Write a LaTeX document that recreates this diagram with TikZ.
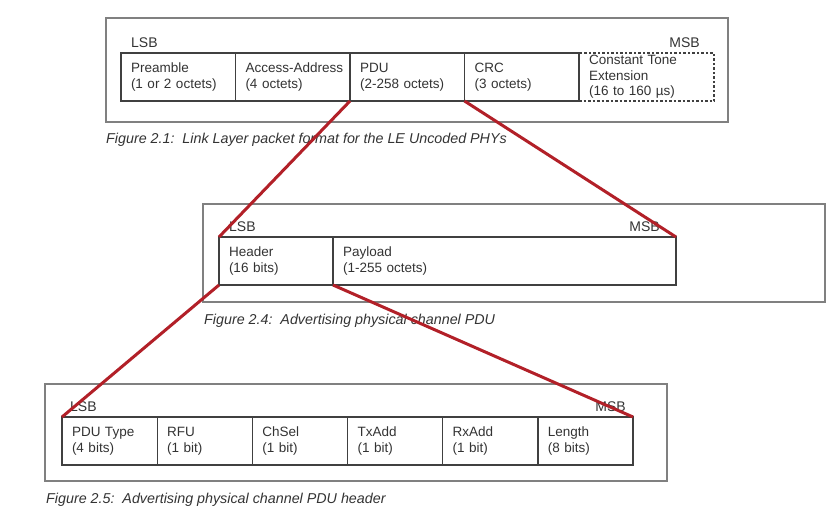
\documentclass[tikz,border=0pt]{standalone}
\usepackage{fontspec}
\setmainfont{Liberation Sans}
\usetikzlibrary{positioning}
\definecolor{linkred}{RGB}{178,32,40}
\definecolor{inkgray}{RGB}{51,51,51}
\tikzset{
  field/.style={draw=black!75,line width=1.3pt,outer sep=0pt,anchor=north west,
    minimum height=48pt,inner xsep=10pt,inner ysep=0pt,text width=#1,align=left,
    font=\fontsize{13.5}{16.5}\selectfont,text=inkgray},
  bitlbl/.style={font=\fontsize{14}{16}\selectfont,text=inkgray,inner sep=0pt},
  figcap/.style={font=\fontsize{14.3}{17}\selectfont\itshape,text=inkgray,inner sep=0pt,anchor=base west},
  frame/.style={draw=black!50,line width=1.1pt},
  zoomline/.style={draw=linkred,line width=3pt}
}
\begin{document}
\begin{tikzpicture}[x=1pt,y=-1pt]
\useasboundingbox (0,0) rectangle (840,507);
% Figure 2.1
\draw[frame](106,18) rectangle (728,122);
\node[bitlbl,anchor=base west] (lsbA) at (131,47) {LSB};
\node[bitlbl,anchor=base east] (msbA) at (700,47) {MSB};
\node[field=94.5pt] (pre) at (121,53) {Preamble\\(1 or 2 octets)};
\node[field=94.5pt,right=0pt of pre] (aa) {\mbox{Access-Address}\\(4 octets)};
\node[field=94.5pt,right=0pt of aa] (pdu) {PDU\\(2-258 octets)};
\node[field=94.5pt,right=0pt of pdu] (crc) {CRC\\(3 octets)};
\node[field=115pt,right=0pt of crc,dash pattern=on 2.5pt off 2pt,
  font=\fontsize{13.5}{15.5}\selectfont] (cte) {Constant Tone\\Extension\\(16 to 160 µs)};
\node[figcap] (capA) at (106,143) {Figure 2.1:\ \ Link Layer packet format for the LE Uncoded PHYs};
%
% Figure 2.4
\draw[frame](203,204) rectangle (825,302);
\node[bitlbl,anchor=base west] (lsbB) at (229,231) {LSB};
\node[bitlbl,anchor=base east] (msbB) at (660,231) {MSB};
\node[field=94pt] (hdr) at (219,237) {Header\\(16 bits)};
\node[field=323pt,right=0pt of hdr] (pay) {Payload\\(1-255 octets)};
\node[figcap] (capB) at (204,324) {Figure 2.4:\ \ Advertising physical channel PDU};
%
% Figure 2.5
\draw[frame](45,384) rectangle (667,481);
\node[bitlbl,anchor=base west] (lsbC) at (70,411) {LSB};
\node[bitlbl,anchor=base east] (msbC) at (626,411) {MSB};
\node[field=75.17pt] (typ) at (62,417) {PDU Type\\(4 bits)};
\node[field=75.17pt,right=0pt of typ] (rfu) {RFU\\(1 bit)};
\node[field=75.17pt,right=0pt of rfu] (chs) {ChSel\\(1 bit)};
\node[field=75.17pt,right=0pt of chs] (txa) {TxAdd\\(1 bit)};
\node[field=75.17pt,right=0pt of txa] (rxa) {RxAdd\\(1 bit)};
\node[field=75.17pt,right=0pt of rxa] (len) {Length\\(8 bits)};
\node[figcap] (capC) at (46,503) {Figure 2.5:\ \ Advertising physical channel PDU header};
%
% zoom lines
\draw[zoomline](pdu.south west)--(hdr.north west);
\draw[zoomline](crc.south west)--(pay.north east);
\draw[zoomline](hdr.south west)--(typ.north west);
\draw[zoomline](pay.south west)--(len.north east);
\end{tikzpicture}
\end{document}
